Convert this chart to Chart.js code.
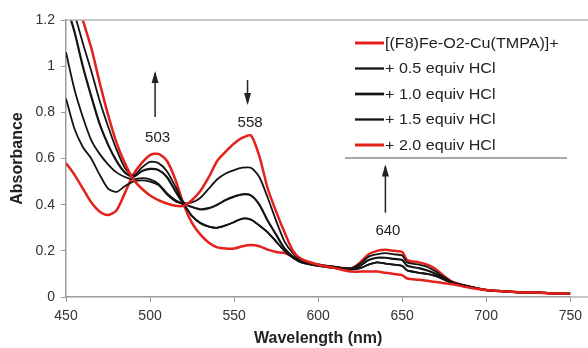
<!DOCTYPE html>
<html>
<head>
<meta charset="utf-8">
<script src="https://cdn.jsdelivr.net/npm/chart.js@4.4.0/dist/chart.umd.min.js"></script>
<style>
  html, body { margin: 0; padding: 0; background: #fff; }
  #wrap { width: 588px; height: 348px; }
</style>
</head>
<body>
<div id="wrap"><canvas id="chart" width="588" height="348"></canvas></div>
<script>
// wavelength grid (nm)
const wavelengths = [450, 455, 460, 465, 470, 475, 480, 485, 490, 495, 500, 505, 510, 515, 520, 525, 530, 535, 540, 545,
  550, 555, 560, 565, 570, 575, 580, 585, 590, 600, 610, 620, 625, 630, 635, 640, 645, 650, 653, 660,
  665, 670, 675, 680, 690, 700, 710, 720, 730, 740, 750];

// absorbance
const initial = [1.46, 1.33, 1.20, 1.08, 0.93, 0.79, 0.67, 0.58, 0.51, 0.47, 0.44, 0.42, 0.405, 0.395, 0.395, 0.42, 0.46, 0.52, 0.59, 0.63,
  0.665, 0.69, 0.70, 0.61, 0.47, 0.37, 0.28, 0.20, 0.165, 0.14, 0.125, 0.11, 0.11, 0.11, 0.11, 0.105, 0.10, 0.095, 0.08, 0.075,
  0.07, 0.065, 0.06, 0.055, 0.04, 0.03, 0.025, 0.02, 0.02, 0.015, 0.015];
const hcl05 = [1.36, 1.23, 1.10, 0.98, 0.85, 0.74, 0.64, 0.56, 0.525, 0.56, 0.585, 0.58, 0.545, 0.48, 0.41, 0.41, 0.43, 0.47, 0.51, 0.535,
  0.55, 0.56, 0.56, 0.52, 0.43, 0.33, 0.24, 0.19, 0.16, 0.14, 0.13, 0.125, 0.145, 0.175, 0.185, 0.19, 0.185, 0.18, 0.15, 0.14,
  0.13, 0.11, 0.085, 0.065, 0.045, 0.03, 0.025, 0.02, 0.02, 0.015, 0.015];
const hcl10 = [1.27, 1.15, 1.00, 0.87, 0.75, 0.66, 0.59, 0.54, 0.52, 0.545, 0.555, 0.55, 0.52, 0.46, 0.405, 0.39, 0.38, 0.385, 0.40, 0.42,
  0.435, 0.445, 0.44, 0.40, 0.33, 0.27, 0.21, 0.175, 0.155, 0.14, 0.13, 0.12, 0.135, 0.16, 0.17, 0.17, 0.165, 0.16, 0.135, 0.125,
  0.115, 0.10, 0.08, 0.06, 0.045, 0.03, 0.025, 0.02, 0.02, 0.015, 0.015];
const hcl15 = [1.06, 0.90, 0.78, 0.68, 0.62, 0.575, 0.54, 0.52, 0.51, 0.515, 0.51, 0.49, 0.45, 0.42, 0.40, 0.35, 0.32, 0.305, 0.30, 0.31,
  0.325, 0.34, 0.335, 0.31, 0.28, 0.24, 0.20, 0.17, 0.15, 0.135, 0.125, 0.12, 0.125, 0.14, 0.15, 0.145, 0.14, 0.135, 0.115, 0.105,
  0.10, 0.09, 0.075, 0.06, 0.045, 0.03, 0.025, 0.02, 0.02, 0.015, 0.015];
const hcl20 = [0.58, 0.53, 0.47, 0.41, 0.37, 0.355, 0.375, 0.45, 0.53, 0.58, 0.615, 0.62, 0.59, 0.51, 0.40, 0.32, 0.27, 0.235, 0.215, 0.21,
  0.21, 0.22, 0.225, 0.22, 0.205, 0.195, 0.19, 0.175, 0.16, 0.14, 0.13, 0.125, 0.15, 0.185, 0.20, 0.205, 0.20, 0.195, 0.16, 0.15,
  0.14, 0.12, 0.09, 0.065, 0.045, 0.03, 0.025, 0.02, 0.02, 0.015, 0.015];
// one more black trace is drawn in the figure but not listed in its legend
const unlabelled = [0.86, 0.73, 0.65, 0.60, 0.53, 0.47, 0.455, 0.48, 0.50, 0.505, 0.50, 0.485, 0.445, 0.415, 0.40, 0.35, 0.32, 0.305, 0.30, 0.31,
  0.325, 0.34, 0.335, 0.31, 0.28, 0.24, 0.20, 0.17, 0.15, 0.135, 0.125, 0.12, 0.125, 0.14, 0.15, 0.145, 0.14, 0.135, 0.115, 0.105,
  0.10, 0.09, 0.075, 0.06, 0.045, 0.03, 0.025, 0.02, 0.02, 0.015, 0.015];

const seriesLabels = ['[(F8)Fe-O2-Cu(TMPA)]+', '+ 0.5 equiv HCl', '+ 1.0 equiv HCl', '+ 1.5 equiv HCl', '+ 2.0 equiv HCl'];
const xTicks = [450, 500, 550, 600, 650, 700, 750];
const yTicks = [0, 0.2, 0.4, 0.6, 0.8, 1, 1.2];

// band markers: wavelength, label, arrow direction
const bandNm = [503, 558, 640];
const bandText = ['503', '558', '640'];
const bandDir = ['up', 'down', 'up'];

const RED = '#e4211b';
const BLACK = '#141414';

function pts(arr) {
  return wavelengths.map((w, i) => ({ x: w, y: arr[i] }));
}

function line(label, arr, color, width) {
  return {
    label: label,
    data: pts(arr),
    borderColor: color,
    backgroundColor: color,
    borderWidth: width,
    pointRadius: 0,
    tension: 0.25,
    fill: false
  };
}

// arrows + peak labels, placed through the scales
const bandPlugin = {
  id: 'bands',
  afterDatasetsDraw(chart) {
    const { ctx, scales: { x, y } } = chart;
    const arrowSpan = { up: [[0.78, 0.97], null, [0.365, 0.565]], down: [null, [0.94, 0.84], null] };
    const labelY = [0.69, 0.755, 0.285];
    ctx.save();
    bandNm.forEach((nm, i) => {
      const px = x.getPixelForValue(nm);
      const span = arrowSpan[bandDir[i]][i];
      const y0 = y.getPixelForValue(span[0]);
      const y1 = y.getPixelForValue(span[1]);
      ctx.strokeStyle = '#222';
      ctx.fillStyle = '#222';
      ctx.lineWidth = 1.5;
      ctx.beginPath();
      ctx.moveTo(px, y0);
      ctx.lineTo(px, y1);
      ctx.stroke();
      const dirSign = y1 < y0 ? 1 : -1;
      ctx.beginPath();
      ctx.moveTo(px, y1 - dirSign * 2);
      ctx.lineTo(px - 3.5, y1 + dirSign * 10);
      ctx.lineTo(px + 3.5, y1 + dirSign * 10);
      ctx.closePath();
      ctx.fill();

      ctx.font = '15px "Liberation Sans", Arial, sans-serif';
      ctx.fillStyle = '#222';
      ctx.textAlign = 'center';
      ctx.textBaseline = 'middle';
      ctx.fillText(bandText[i], x.getPixelForValue(nm + 1.5), y.getPixelForValue(labelY[i]));
    });
    ctx.restore();
  }
};

// frame + boxed legend in the upper right of the plot
const framePlugin = {
  id: 'frame',
  afterDraw(chart) {
    const { ctx, chartArea: a, width } = chart;
    ctx.save();
    ctx.strokeStyle = '#b5b5b5';
    ctx.lineWidth = 1.5;
    ctx.beginPath();
    ctx.moveTo(a.left, a.top);
    ctx.lineTo(width, a.top);
    ctx.moveTo(a.right, a.bottom);
    ctx.lineTo(width, a.bottom);
    ctx.stroke();

    // legend
    const lx = 355, ly = 43, rowH = 25.5;
    const sets = chart.data.datasets.filter(d => seriesLabels.includes(d.label));
    sets.forEach((d, i) => {
      const yy = ly + i * rowH;
      ctx.strokeStyle = d.borderColor;
      ctx.lineWidth = d.borderWidth + 0.5;
      ctx.beginPath();
      ctx.moveTo(lx, yy);
      ctx.lineTo(lx + 29, yy);
      ctx.stroke();
      ctx.save();
      ctx.translate(lx + 30, yy);
      ctx.scale(1.15, 1);
      ctx.font = '14px "Liberation Sans", Arial, sans-serif';
      ctx.fillStyle = '#222';
      ctx.textAlign = 'left';
      ctx.textBaseline = 'middle';
      ctx.fillText(d.label, 0, 1);
      ctx.restore();
    });
    ctx.strokeStyle = '#a8a8a8';
    ctx.lineWidth = 2;
    ctx.beginPath();
    ctx.moveTo(345, 158);
    ctx.lineTo(567, 158);
    ctx.stroke();
    ctx.restore();
  }
};

const datasets = [
  line(seriesLabels[0], initial, RED, 2.5),
  line(seriesLabels[1], hcl05, BLACK, 1.8),
  line(seriesLabels[2], hcl10, BLACK, 2.2),
  line(seriesLabels[3], hcl15, BLACK, 1.8),
  line('', unlabelled, BLACK, 1.8),
  line(seriesLabels[4], hcl20, RED, 2.5)
];

new Chart(document.getElementById('chart'), {
  type: 'line',
  data: { datasets: datasets },
  options: {
    responsive: false,
    animation: false,
    devicePixelRatio: 1,
    layout: { padding: { top: 20, right: 17, bottom: 0, left: 0 } },
    plugins: {
      legend: { display: false },
      tooltip: { enabled: false }
    },
    scales: {
      x: {
        type: 'linear',
        min: 450,
        max: 750,
        afterBuildTicks: (s) => { s.ticks = xTicks.map(v => ({ value: v })); },
        afterFit: (s) => { s.height = 51; },
        grid: { drawOnChartArea: false, drawTicks: true, tickLength: 5, color: '#999' },
        border: { display: true, color: '#9a9a9a', width: 1.5 },
        ticks: {
          color: '#333',
          padding: 6,
          maxRotation: 0,
          font: { family: '"Liberation Sans", Arial, sans-serif', size: 14 }
        },
        title: {
          display: true,
          text: 'Wavelength (nm)',
          color: '#222',
          padding: { top: 0, bottom: 0 },
          font: { family: '"Liberation Sans", Arial, sans-serif', size: 16, weight: 'bold' }
        }
      },
      y: {
        min: 0,
        max: 1.2,
        afterBuildTicks: (s) => { s.ticks = yTicks.map(v => ({ value: v })); },
        afterFit: (s) => { s.width = 66; },
        grid: { drawOnChartArea: false, drawTicks: true, tickLength: 5, color: '#999' },
        border: { display: true, color: '#9a9a9a', width: 1.5 },
        ticks: {
          color: '#333',
          padding: 6,
          callback: (v) => String(Number(v.toFixed(1))),
          font: { family: '"Liberation Sans", Arial, sans-serif', size: 14 }
        },
        title: {
          display: true,
          text: 'Absorbance',
          color: '#222',
          padding: { top: 8, bottom: 0 },
          font: { family: '"Liberation Sans", Arial, sans-serif', size: 16, weight: 'bold' }
        }
      }
    }
  },
  plugins: [bandPlugin, framePlugin]
});
</script>
</body>
</html>
